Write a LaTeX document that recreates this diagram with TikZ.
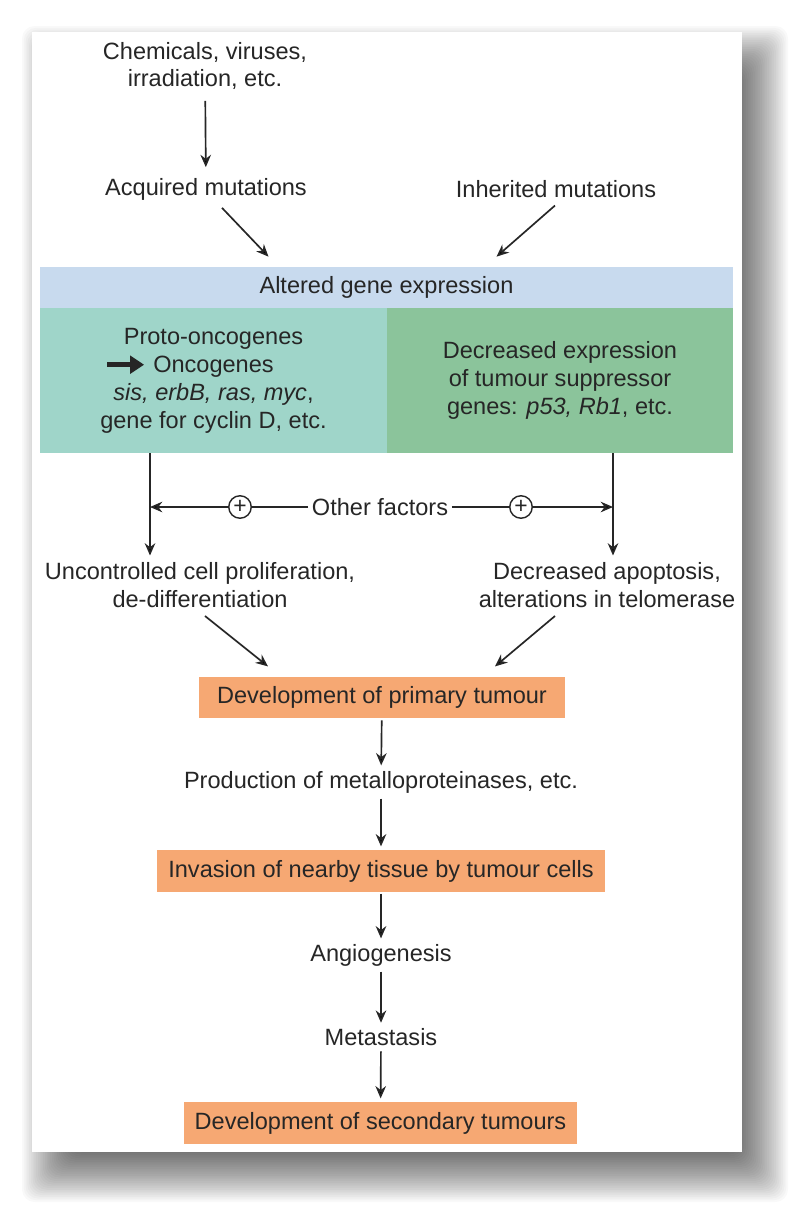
\documentclass[tikz,border=0pt]{standalone}
\usepackage{fontspec}
\setmainfont{Liberation Sans}
\usetikzlibrary{arrows.meta, positioning, calc}

\definecolor{bandblue}{HTML}{C8DAEE}
\definecolor{oncoteal}{HTML}{9FD5C9}
\definecolor{suppgreen}{HTML}{8BC49B}
\definecolor{tumourorange}{HTML}{F6A873}
\definecolor{inktext}{HTML}{262626}

\tikzset{
  lbl/.style={align=center, text=inktext, inner sep=2pt, font=\fontsize{13.4}{15.9}\selectfont},
  stagebox/.style={lbl, fill=tumourorange, minimum height=0.83cm},
  flow/.style={draw=inktext, line width=0.95pt, -{Stealth[length=7pt,width=6pt]}},
  plain/.style={draw=inktext, line width=0.95pt},
  plusmark/.style={circle, draw=inktext, line width=0.8pt, fill=white, inner sep=0pt,
    minimum size=0.45cm, text=inktext, font=\fontsize{13}{13}\selectfont}
}

\newcommand{\thickarrow}{\tikz[baseline=-0.6ex]\draw[line width=3pt,-{Triangle[length=8pt,width=10pt]}] (0pt,0pt) -- (21pt,0pt);}

\begin{document}
\begin{tikzpicture}[x=0.02cm, y=-0.02cm]
  \useasboundingbox (0,0) rectangle (806,1217);
  \fill[white] (0,0) rectangle (806,1217);
  % soft shadow behind the panel
  \foreach \r in {-28,-26.25,...,28}
    \fill[black, opacity=0.025, rounded corners=0.25cm] (50-\r,54-\r) rectangle (760+\r,1174+\r);
  \fill[white] (32,32) rectangle (742,1152);

  % causes
  \node[lbl] (chem) at (205,66) {Chemicals, viruses,\\irradiation, etc.};
  \node[lbl] (acq) at (206,189) {Acquired mutations};
  \node[lbl] (inh) at (556,189) {Inherited mutations};

  % gene expression panel
  \node[lbl, fill=bandblue, minimum width=13.86cm, minimum height=0.82cm] (band) at (386.5,287.5) {Altered gene expression};
  \node[lbl, fill=oncoteal, minimum width=6.94cm, minimum height=2.9cm] (onco) at (213.5,380.5)
    {Proto-oncogenes\\\llap{\thickarrow\ }Oncogenes\\\textit{sis, erbB, ras, myc},\\gene for cyclin D, etc.};
  \node[lbl, fill=suppgreen, minimum width=6.92cm, minimum height=2.9cm] (supp) at (560,380.5)
    {Decreased expression\\of tumour suppressor\\genes: \textit{p53, Rb1}, etc.};

  % other factors
  \coordinate (lsplit) at (150,507);
  \coordinate (rsplit) at (613,507);
  \node[lbl] (othr) at (380,507) {Other factors};
  \node[plusmark] (plusL) at (240,507) {+};
  \node[plusmark] (plusR) at (521,507) {+};

  % effects
  \node[lbl] (unc) at (200,585.5) {Uncontrolled cell proliferation,\\de-differentiation};
  \node[lbl] (dec) at (607,585.5) {Decreased apoptosis,\\alterations in telomerase};

  % tumour stages
  \node[stagebox, minimum width=7.32cm] (primary) at (382,697.5) {Development of primary tumour};
  \node[lbl] (prod) at (381,782) {Production of metalloproteinases, etc.};
  \node[stagebox, minimum width=8.96cm] (invade) at (381,871) {Invasion of nearby tissue by tumour cells};
  \node[lbl] (angio) at (381,955) {Angiogenesis};
  \node[lbl] (meta) at (381,1037) {Metastasis};
  \node[stagebox, minimum width=7.86cm] (second) at (380.5,1123) {Development of secondary tumours};

  % connectors
  \draw[flow, shorten <=4pt, shorten >=4pt] (chem) -- (acq);
  \draw[flow] ($(acq.south)+(16,4)$) -- ($(band.north)+(-118,-10)$);
  \draw[flow] ($(inh.south)+(-1,4)$) -- ($(band.north)+(110,-10)$);
  \draw[flow, shorten >=2pt] (onco.south -| lsplit) -- (unc.north -| lsplit);
  \draw[flow, shorten >=2pt] (supp.south -| rsplit) -- (dec.north -| rsplit);
  \draw[plain] (othr.west) -- (plusL);
  \draw[flow] (plusL) -- (lsplit);
  \draw[plain] (othr.east) -- (plusR);
  \draw[flow] (plusR) -- (rsplit);
  \draw[flow] ($(unc.south)+(5,4)$) -- ($(primary.north)+(-114,-10)$);
  \draw[flow] ($(dec.south)+(-52,4)$) -- ($(primary.north)+(113,-10)$);
  \draw[flow, shorten <=1pt, shorten >=1pt] (primary) -- (prod);
  \draw[flow, shorten <=1pt, shorten >=2pt] (prod) -- (invade);
  \draw[flow, shorten <=1pt, shorten >=1pt] (invade) -- (angio);
  \draw[flow, shorten <=1pt, shorten >=1pt] (angio) -- (meta);
  \draw[flow, shorten <=1pt, shorten >=2pt] (meta) -- (second);
\end{tikzpicture}
\end{document}
